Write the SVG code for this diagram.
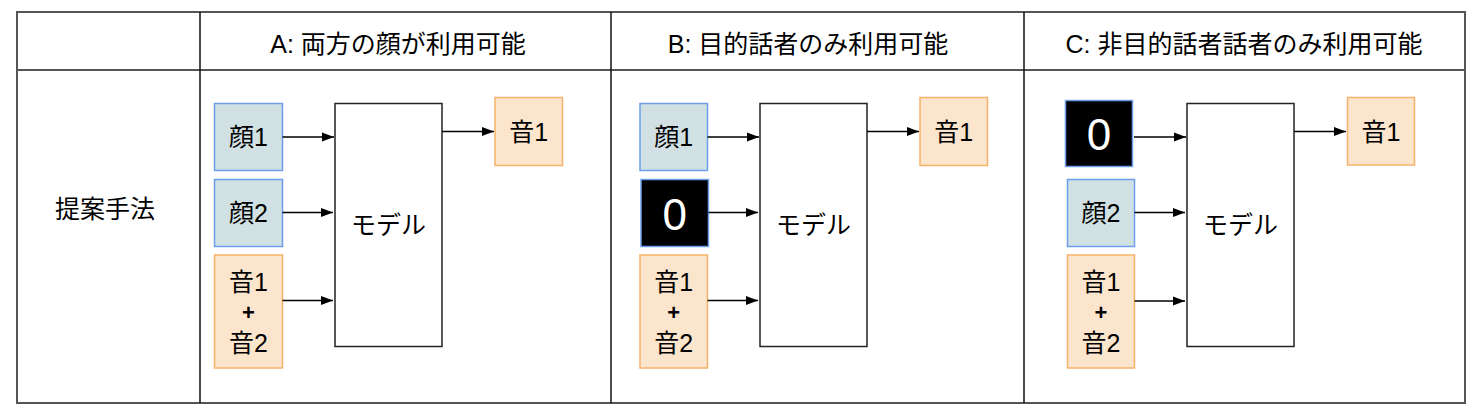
<svg xmlns="http://www.w3.org/2000/svg" width="1480" height="414" viewBox="0 0 1480 414">
<defs>
<marker id="ah" viewBox="0 0 12 10" refX="12" refY="5" markerWidth="12" markerHeight="10" markerUnits="userSpaceOnUse" orient="auto">
<path d="M0,0.5 L12,5 L0,9.5 Z" fill="#000"/>
</marker>
<style>
.t{font-family:"Liberation Sans","Noto Sans CJK JP",sans-serif;font-size:25px;fill:#000;text-anchor:middle;dominant-baseline:central}
.p{font-weight:bold;font-size:22px}
.z{font-family:"Liberation Sans","Noto Sans CJK JP",sans-serif;font-size:44px;fill:#fff;text-anchor:middle;dominant-baseline:central}
.face{fill:#d0e0e3;stroke:#6d9eeb;stroke-width:1.5}
.snd{fill:#fce5cd;stroke:#f6b26b;stroke-width:1.5}
.zero{fill:#000;stroke:#6d9eeb;stroke-width:1.5}
.model{fill:#fff;stroke:#222;stroke-width:1.5}
.grid{stroke:#555;stroke-width:2;fill:none}
.div{stroke:#111;stroke-width:1.5;fill:none}
.c{stroke:#000;stroke-width:1.3;fill:none;marker-end:url(#ah)}
</style>
</defs>
<rect width="1480" height="414" fill="#fff"/>
<g id="table">
<rect class="grid" x="17" y="12" width="1448" height="391"/>
<line class="grid" x1="17" y1="70" x2="1465" y2="70"/>
<line class="div" x1="200" y1="12" x2="200" y2="403"/>
<line class="div" x1="611" y1="12" x2="611" y2="403"/>
<line class="div" x1="1024" y1="12" x2="1024" y2="403"/>
<text class="t" x="398" y="44">A: 両方の顔が利用可能</text>
<text class="t" x="808" y="44">B: 目的話者のみ利用可能</text>
<text class="t" x="1244" y="44">C: 非目的話者話者のみ利用可能</text>
<text class="t" x="105" y="209">提案手法</text>
</g>
<g id="A-face1"><rect class="face" x="214.5" y="103.5" width="68" height="67"/><text class="t" x="248.5" y="137">顔1</text></g>
<g id="A-face2"><rect class="face" x="214.5" y="179.5" width="68" height="67"/><text class="t" x="248.5" y="213">顔2</text></g>
<g id="A-mix"><rect class="snd" x="214.5" y="255" width="68" height="113"/><text class="t" x="248.5" y="282">音1</text><text class="t p" x="248.5" y="312.5">+</text><text class="t" x="248.5" y="343">音2</text></g>
<g id="A-model"><rect class="model" x="335" y="103.5" width="107" height="243"/><text class="t" x="388.5" y="225">モデル</text></g>
<g id="A-out"><rect class="snd" x="495" y="97.5" width="67.5" height="68"/><text class="t" x="528.75" y="131.5">音1</text></g>

<g id="B-face1"><rect class="face" x="640" y="103.5" width="67.5" height="67"/><text class="t" x="673.75" y="137">顔1</text></g>
<g id="B-zero"><rect class="zero" x="641" y="179.5" width="67.5" height="67"/><text class="z" x="674.75" y="214">0</text></g>
<g id="B-mix"><rect class="snd" x="640" y="255" width="67.5" height="113"/><text class="t" x="673.75" y="282">音1</text><text class="t p" x="673.75" y="312.5">+</text><text class="t" x="673.75" y="343">音2</text></g>
<g id="B-model"><rect class="model" x="760" y="103.5" width="107" height="243"/><text class="t" x="813.5" y="225">モデル</text></g>
<g id="B-out"><rect class="snd" x="920" y="97.5" width="67.5" height="68"/><text class="t" x="953.75" y="131.5">音1</text></g>

<g id="C-zero"><rect class="zero" x="1065.5" y="100.5" width="67" height="66"/><text class="z" x="1099" y="134.5">0</text></g>
<g id="C-face2"><rect class="face" x="1067.5" y="179.5" width="67" height="67"/><text class="t" x="1101" y="213">顔2</text></g>
<g id="C-mix"><rect class="snd" x="1067.5" y="255" width="67" height="113"/><text class="t" x="1101" y="282">音1</text><text class="t p" x="1101" y="312.5">+</text><text class="t" x="1101" y="343">音2</text></g>
<g id="C-model"><rect class="model" x="1187" y="103.5" width="107" height="243"/><text class="t" x="1240.5" y="225">モデル</text></g>
<g id="C-out"><rect class="snd" x="1347.5" y="97.5" width="67" height="67.5"/><text class="t" x="1381" y="131.5">音1</text></g>

<g id="connectors">
<line class="c" x1="282.5" y1="137" x2="334" y2="137"/>
<line class="c" x1="282.5" y1="212.5" x2="333" y2="212.5"/>
<line class="c" x1="282.5" y1="300.5" x2="333" y2="300.5"/>
<line class="c" x1="442" y1="131.5" x2="494" y2="131.5"/>
<line class="c" x1="707.5" y1="137" x2="759" y2="137"/>
<line class="c" x1="708.5" y1="212.5" x2="758" y2="212.5"/>
<line class="c" x1="707.5" y1="300.5" x2="758" y2="300.5"/>
<line class="c" x1="867" y1="131.5" x2="919" y2="131.5"/>
<line class="c" x1="1134" y1="137" x2="1186" y2="137"/>
<line class="c" x1="1134.5" y1="212.5" x2="1185" y2="212.5"/>
<line class="c" x1="1134.5" y1="301" x2="1185" y2="301"/>
<line class="c" x1="1294" y1="131.5" x2="1346" y2="131.5"/>
</g>
</svg>
